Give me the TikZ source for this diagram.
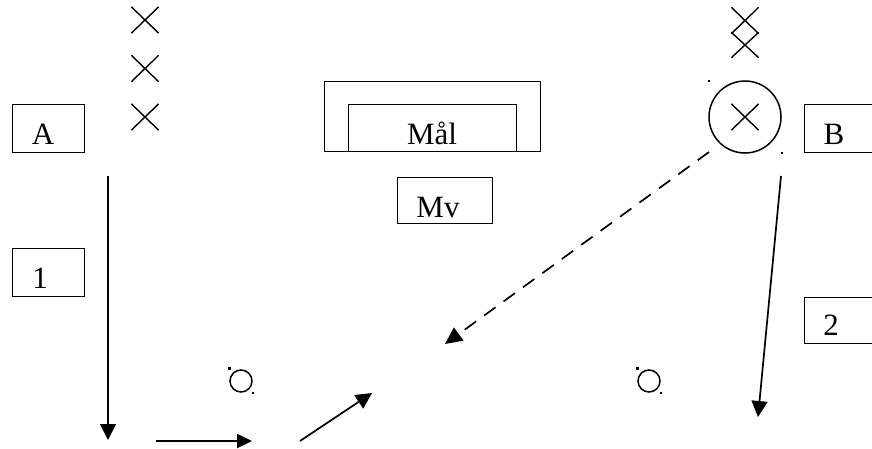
\documentclass[tikz,border=0pt]{standalone}
\usepackage{fontspec}
\setmainfont{Liberation Serif}
\usetikzlibrary{arrows.meta,shapes.misc}
\begin{document}
\begin{tikzpicture}[x=1pt,y=-1pt,
  box/.style={draw,rectangle,line width=1.8pt,inner sep=0pt},
  lbl/.style={anchor=base,inner sep=0pt,font=\fontsize{31}{36}\selectfont},
  xmark/.style={cross out,draw,line width=1.4pt,inner sep=0pt,minimum width=26pt,minimum height=25pt},
  ring/.style={circle,draw,line width=1.5pt,inner sep=0pt},
  dotmark/.style={fill,rectangle,inner sep=0pt,minimum size=2.4pt},
  arr/.style={line width=1.7pt,-{Triangle[length=16pt,width=16pt]}}
]
\useasboundingbox (0,0) rectangle (872,448);
\clip (0,0) rectangle (872,448);
% left crosses
\node[xmark] (x1) at (145,20) {};
\node[xmark] (x2) at (145,68.5) {};
\node[xmark] (x3) at (145,117) {};
% right crosses
\node[xmark,minimum height=25pt] (x4) at (745,20.5) {};
\node[xmark,minimum height=24pt] (x5) at (745,45) {};
% boxes
\node[box,minimum width=72pt,minimum height=48pt] (boxA) at (48.5,128.5) {};
\node[lbl] (tA) at (43,144) {A};
\node[box,minimum width=72pt,minimum height=48pt] (box1) at (48.5,272.5) {};
\node[lbl] (t1) at (40,288) {1};
\node[box,minimum width=216pt,minimum height=70pt] (malOuter) at (432.5,116.5) {};
\node[box,minimum width=168pt,minimum height=47pt] (malInner) at (432.5,128) {};
\node[lbl] (tMal) at (432,144) {Mål};
\node[box,minimum width=95pt,minimum height=46pt] (boxMv) at (445,200.5) {};
\node[lbl] (tMv) at (438,217) {Mv};
\node[box,minimum width=72pt,minimum height=48pt] (boxB) at (840.5,128.5) {};
\node[lbl] (tB) at (834,144) {B};
\node[box,minimum width=72pt,minimum height=46pt] (box2) at (840.5,320.5) {};
\node[lbl] (t2) at (831,335) {2};
% big circle with cross
\node[ring,minimum size=72pt] (bigC) at (745,117) {};
\node[xmark] (x6) at (745,117) {};
\node[dotmark] (d1) at (709,81) {};
\node[dotmark] (d2) at (782,153) {};
% small circles
\node[ring,minimum size=22pt] (sc1) at (241,381) {};
\node[dotmark] (d3) at (229.5,368.5) {};
\node[dotmark] (d4) at (253,393) {};
\node[ring,minimum size=22pt] (sc2) at (649,381) {};
\node[dotmark] (d5) at (637.5,368.5) {};
\node[dotmark] (d6) at (661,393) {};
% arrow endpoints
\coordinate (v1) at (108,176);
\coordinate (v2) at (108,440);
\coordinate (h1) at (156,441);
\coordinate (h2) at (252,441);
\coordinate (g1) at (300,441);
\coordinate (g2) at (372,393);
\coordinate (q1) at (709,152);
\coordinate (q2) at (445,344);
\coordinate (r1) at (781,176);
\coordinate (r2) at (758,417);
% arrows
\draw[arr] (v1) -- (v2);
\draw[arr,-{Triangle[length=15pt,width=14pt]}] (h1) -- (h2);
\draw[arr] (g1) -- (g2);
\draw[arr,dash pattern=on 14pt off 10pt,-{Triangle[length=17pt,width=16pt]}] (q1) -- (q2);
\draw[arr] (r1) -- (r2);
\end{tikzpicture}
\end{document}
